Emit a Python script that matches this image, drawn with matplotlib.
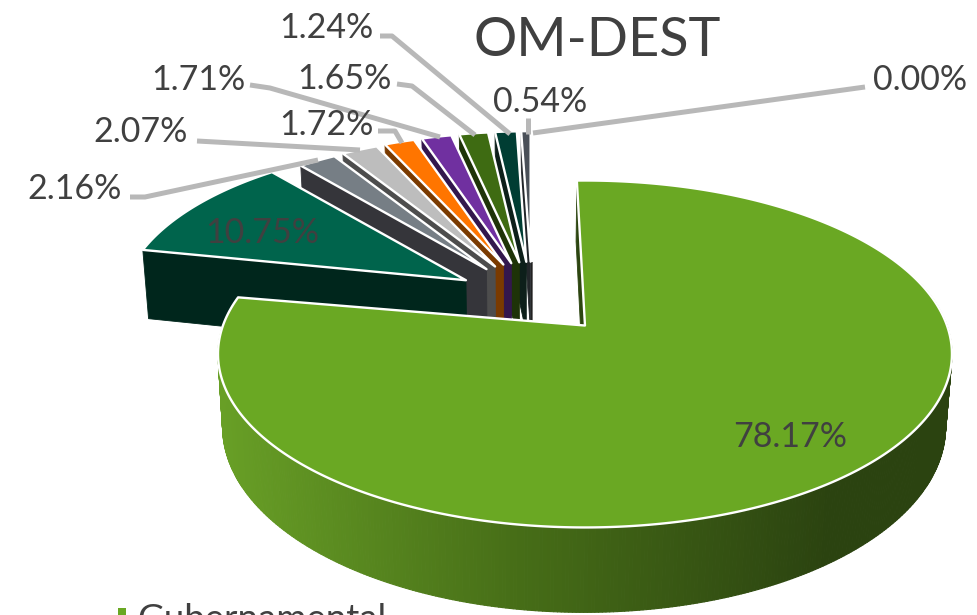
import matplotlib
matplotlib.use('Agg')
import matplotlib.pyplot as plt
import numpy as np
from matplotlib.collections import PolyCollection
from matplotlib.colors import to_rgb

# slices, clockwise from 12 o'clock
values = [78.17, 10.75, 2.16, 2.07, 1.72, 1.71, 1.65, 1.24, 0.54, 0.00]
top_colors = ['#6aa823', '#00644c', '#767e85', '#bdbdbd', '#ff7500',
              '#7030a0', '#3e6b12', '#003d33', '#4a5058', '#2a2a2a']
wall_colors = ['#2c4510', '#00261c', '#35353a', '#4d4d4d', '#7a3a00',
               '#33174d', '#1e3308', '#0d1f1a', '#22262a', '#222222']
legend_name = 'Gubernamental'
title = 'OM-DEST'

# label anchor (centre of the text) for each slice, pixels
label_pos = [(790, 437), (262, 233), (75, 189), (141, 132), (326, 125),
             (198, 80), (344, 79), (326, 28), (540, 102), (920, 80)]
leaders = [
    [(130, 197), (145, 197), (318, 160)],
    [(197, 141), (360, 150)],
    [(378, 131), (395, 131), (402, 143)],
    [(250, 85), (270, 88), (440, 137)],
    [(397, 84), (412, 86), (475, 135)],
    [(380, 36), (392, 36), (510, 134)],
    [(528, 118), (528, 134)],
    [(865, 87), (533, 133)],
]

font = 'Lato'
text_col = '#404040'

# projection of the tilted disc
R = 362.0
Ry = 168.8
k = 0.164
depth = 71.0
vp_x = 527.0
cx, cy = 534.0, 298.0
explode = 78.0
start = -1.5
small_rotate = 1.5
slice_scale = [1.0, 0.94, 0.90, 0.90, 0.90, 0.90, 0.90, 0.90, 0.90, 0.90]


def proj(u, v, ax0, ay0, scale=1.0):
    s = 1.0 / (1.0 + k * v)
    return ax0 + scale * R * u * s, ay0 - scale * Ry * v * s


def lower(x, y, v):
    s = 1.0 / (1.0 + k * v)
    return vp_x + (x - vp_x) * 0.985, y + depth * s


fig = plt.figure(figsize=(9.77, 6.15), dpi=100)
ax = fig.add_axes([0, 0, 1, 1])
ax.set_xlim(0, 977)
ax.set_ylim(615, 0)
ax.axis('off')

angles = start + np.cumsum([0] + values) * 360.0 / sum(values)

# painter's order: small back slices first, green last
for i in range(len(values) - 1, -1, -1):
    a0, a1 = np.radians(angles[i]), np.radians(angles[i + 1])
    mid = (a0 + a1) / 2
    ax0 = cx + explode * np.sin(mid)
    ay0 = cy - explode * Ry / R * np.cos(mid)
    scale = slice_scale[i]
    z = 5 + (len(values) - i) * 2

    if i > 0:
        a0 += np.radians(small_rotate)
        a1 += np.radians(small_rotate)
    th = np.linspace(a0, a1, max(int(np.degrees(a1 - a0) * 2), 2))
    u, v = np.sin(th), np.cos(th)
    x, y = proj(u, v, ax0, ay0, scale)

    # radial wall along the leading edge
    ex, ey = x[0], y[0]
    bx0, by0 = lower(ax0, ay0, 0)
    bx1, by1 = lower(ex, ey, v[0])
    ax.fill([ax0, ex, bx1, bx0], [ay0, ey, by1, by0], color=wall_colors[i],
            lw=0.6, zorder=z)
    if i == 0:
        # curved outer wall with left-to-right shading
        vis = (th > np.radians(75)) & (th < a1)
        xs, ys, vs = x[vis], y[vis], v[vis]
        bxs, bys = lower(xs, ys, vs)
        polys = []
        cols = []
        light = np.array(to_rgb('#689f26'))
        mid_c = np.array(to_rgb('#466d17'))
        dark = np.array(to_rgb('#2b4310'))
        for j in range(len(xs) - 1):
            polys.append([(xs[j], ys[j]), (xs[j + 1], ys[j + 1]),
                          (bxs[j + 1], bys[j + 1]), (bxs[j], bys[j])])
            t = (xs[j] + xs[j + 1]) / 2
            cols.append([np.interp(t, [220, 520, 830, 950],
                                   [light[c], mid_c[c], dark[c], dark[c]])
                         for c in range(3)])
        ax.add_collection(PolyCollection(polys, facecolors=cols, edgecolors=cols,
                                         linewidths=0.8, zorder=z))

    px = np.concatenate([[ax0], x])
    py = np.concatenate([[ay0], y])
    ax.fill(px, py, facecolor=top_colors[i], edgecolor='white',
            lw=1.7, joinstyle='round', zorder=z + 1)

for pts in leaders:
    ax.plot([p[0] for p in pts], [p[1] for p in pts], color='#b8b8b8', lw=3.6,
            solid_capstyle='butt', solid_joinstyle='round', zorder=40)

for val, (lx, ly) in zip(values, label_pos):
    ax.text(lx, ly, f'{val:.2f}%', ha='center', va='center', family=font,
            fontsize=24.5, color=text_col, zorder=50)

ax.text(597, 41, title, ha='center', va='center', family=font, fontsize=39,
        color=text_col, zorder=50)

ax.scatter([122], [612], marker='s', s=28, color=top_colors[0], linewidths=0, zorder=50)
ax.text(137, 603, legend_name, ha='left', va='top', family=font, fontsize=26.4,
        color=text_col, zorder=50)

fig.savefig('out.png', dpi=100)
